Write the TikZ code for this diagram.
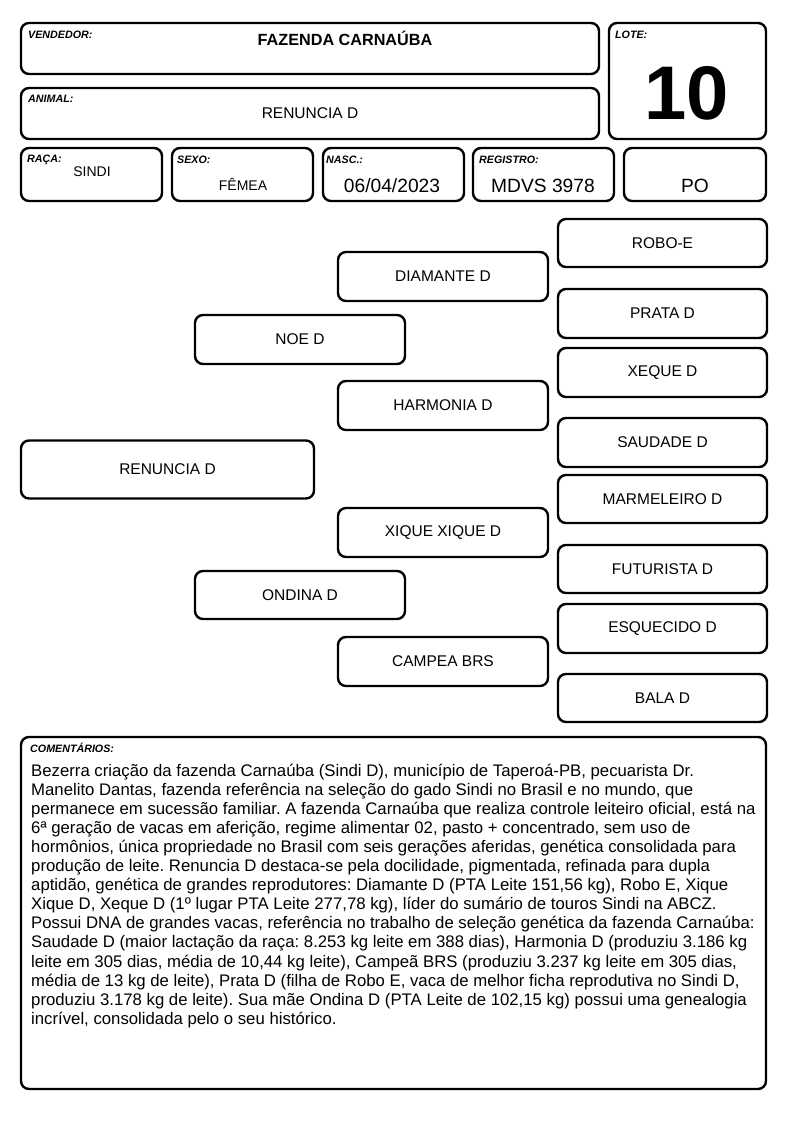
\documentclass[tikz,border=0pt]{standalone}
\usepackage{fontspec}
\setmainfont{Liberation Sans}
\frenchspacing
\tikzset{
  pbox/.style={draw=black,line width=2.4pt,rounded corners=8pt,inner sep=0pt,fill=white},
  plbl/.style={anchor=base west,inner sep=0pt,font=\fontsize{10.7}{11}\selectfont\bfseries\itshape},
  pname/.style={pbox,font=\fontsize{15.5}{16}\selectfont},
  pval/.style={inner sep=0pt,font=\fontsize{19.2}{20}\selectfont}}
\begin{document}
\begin{tikzpicture}[x=1pt,y=-1pt]
\useasboundingbox (0,0) rectangle (794,1123);
% header boxes
\node[pbox,minimum width=578pt,minimum height=51pt] (vend) at (310,48.5) {};
\node[pbox,minimum width=578pt,minimum height=51pt] (anim) at (310,113.5) {};
\node[pbox,minimum width=157pt,minimum height=116pt] (lote) at (687.5,81) {};
\node[pbox,minimum width=141pt,minimum height=53pt] (raca) at (91.5,174.5) {};
\node[pbox,minimum width=141pt,minimum height=53pt] (sexo) at (242.5,174.5) {};
\node[pbox,minimum width=141pt,minimum height=53pt] (nasc) at (393.5,174.5) {};
\node[pbox,minimum width=141pt,minimum height=53pt] (reg) at (543.5,174.5) {};
\node[pbox,minimum width=142pt,minimum height=53pt] (po) at (695,174.5) {};
% header labels
\node[plbl] (lvend) at (28,39) {VENDEDOR:};
\node[inner sep=0pt,font=\fontsize{16.2}{17}\selectfont\bfseries] (tvend) at (345,38) {FAZENDA CARNAÚBA};
\node[plbl] (lanim) at (28,103) {ANIMAL:};
\node[inner sep=0pt,font=\fontsize{15.5}{16}\selectfont] (tanim) at (310,113) {RENUNCIA D};
\node[plbl] (llote) at (615,39) {LOTE:};
\node[inner sep=0pt,font=\fontsize{76}{76}\selectfont\bfseries] (tlote) at (687,93) {10};
\node[plbl] (lraca) at (27,163) {RAÇA:};
\node[inner sep=0pt,font=\fontsize{14}{15}\selectfont] (traca) at (92,172) {SINDI};
\node[plbl] (lsexo) at (177,164) {SEXO:};
\node[inner sep=0pt,font=\fontsize{14}{15}\selectfont] (tsexo) at (243,184) {FÊMEA};
\node[plbl] (lnasc) at (326,164) {NASC.:};
\node[pval] (tnasc) at (392,186) {06/04/2023};
\node[plbl] (lreg) at (479,164) {REGISTRO:};
\node[pval] (treg) at (543,186) {MDVS 3978};
\node[pval] (tpo) at (695,186) {PO};
% pedigree
\node[pname,minimum width=293pt,minimum height=58pt] (renuncia) at (167.5,469.5) {RENUNCIA D};
\node[pname,minimum width=210pt,minimum height=49pt] (noe) at (300,339.5) {NOE D};
\node[pname,minimum width=210pt,minimum height=48pt] (ondina) at (300,595) {ONDINA D};
\node[pname,minimum width=210pt,minimum height=49pt] (diamante) at (443,276.5) {DIAMANTE D};
\node[pname,minimum width=210pt,minimum height=49pt] (harmonia) at (443,405.5) {HARMONIA D};
\node[pname,minimum width=210pt,minimum height=49pt] (xique) at (443,532.5) {XIQUE XIQUE D};
\node[pname,minimum width=210pt,minimum height=49pt] (campea) at (443,661.5) {CAMPEA BRS};
\node[pname,minimum width=209pt,minimum height=48pt] (robo) at (662.5,243) {ROBO-E};
\node[pname,minimum width=209pt,minimum height=49pt] (prata) at (662.5,313.5) {PRATA D};
\node[pname,minimum width=209pt,minimum height=49pt] (xeque) at (662.5,372.5) {XEQUE D};
\node[pname,minimum width=209pt,minimum height=49pt] (saudade) at (662.5,442.5) {SAUDADE D};
\node[pname,minimum width=209pt,minimum height=48pt] (marmeleiro) at (662.5,499) {MARMELEIRO D};
\node[pname,minimum width=209pt,minimum height=48pt] (futurista) at (662.5,569) {FUTURISTA D};
\node[pname,minimum width=209pt,minimum height=49pt] (esquecido) at (662.5,628.5) {ESQUECIDO D};
\node[pname,minimum width=209pt,minimum height=48pt] (bala) at (662.5,698) {BALA D};
% comments
\node[pbox,minimum width=745pt,minimum height=352pt] (com) at (393.5,913) {};
\node[plbl] (lcom) at (30,752) {COMENTÁRIOS:};
\node[anchor=north west,inner sep=0pt,align=left,font=\fontsize{16.75}{19.05}\selectfont] (tcom) at (31,764) {%
Bezerra criação da fazenda Carnaúba (Sindi D), município de Taperoá-PB, pecuarista Dr.\\
Manelito Dantas, fazenda referência na seleção do gado Sindi no Brasil e no mundo, que\\
permanece em sucessão familiar. A fazenda Carnaúba que realiza controle leiteiro oficial, está na\\
6ª geração de vacas em aferição, regime alimentar 02, pasto + concentrado, sem uso de\\
hormônios, única propriedade no Brasil com seis gerações aferidas, genética consolidada para\\
produção de leite. Renuncia D destaca-se pela docilidade, pigmentada, refinada para dupla\\
aptidão, genética de grandes reprodutores: Diamante D (PTA Leite 151,56 kg), Robo E, Xique\\
Xique D, Xeque D (1º lugar PTA Leite 277,78 kg), líder do sumário de touros Sindi na ABCZ.\\
Possui DNA de grandes vacas, referência no trabalho de seleção genética da fazenda Carnaúba:\\
Saudade D (maior lactação da raça: 8.253 kg leite em 388 dias), Harmonia D (produziu 3.186 kg\\
leite em 305 dias, média de 10,44 kg leite), Campeã BRS (produziu 3.237 kg leite em 305 dias,\\
média de 13 kg de leite), Prata D (filha de Robo E, vaca de melhor ficha reprodutiva no Sindi D,\\
produziu 3.178 kg de leite). Sua mãe Ondina D (PTA Leite de 102,15 kg) possui uma genealogia\\
incrível, consolidada pelo o seu histórico.};
\end{tikzpicture}
\end{document}
